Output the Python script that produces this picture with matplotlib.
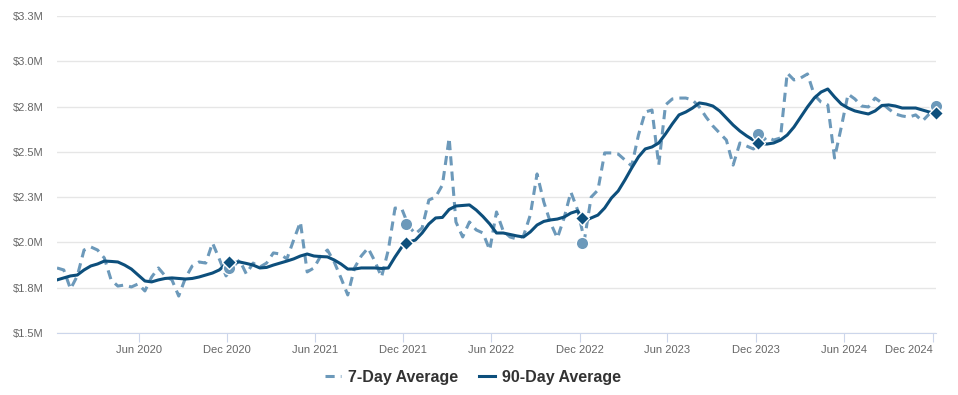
import pandas as pd
import matplotlib.pyplot as plt
from matplotlib.lines import Line2D

plt.rcParams["font.family"] = ["Liberation Sans", "DejaVu Sans"]

# biweekly samples, values in $M
dates = pd.date_range("2019-12-15", periods=131, freq="14D")

avg_7day = [
    1.859, 1.848, 1.743, 1.815, 1.958, 1.975, 1.958, 1.914, 1.793, 1.759,
    1.765, 1.754, 1.771, 1.732, 1.809, 1.859, 1.815, 1.793, 1.704, 1.804,
    1.870, 1.892, 1.886, 1.997, 1.909, 1.815, 1.864, 1.903, 1.826, 1.886,
    1.864, 1.886, 1.942, 1.936, 1.909, 2.013, 2.113, 1.837, 1.859, 1.925,
    1.958, 1.892, 1.804, 1.710, 1.859, 1.925, 1.969, 1.897, 1.809, 1.958,
    2.190, 2.185, 2.091, 2.047, 2.080, 2.234, 2.251, 2.317, 2.577, 2.113,
    2.030, 2.113, 2.069, 2.052, 1.958, 2.168, 2.063, 2.030, 2.019, 2.036,
    2.151, 2.378, 2.223, 2.107, 2.024, 2.135, 2.278, 2.179, 2.013, 2.250,
    2.289, 2.494, 2.494, 2.488, 2.455, 2.422, 2.593, 2.720, 2.731, 2.427,
    2.759, 2.792, 2.797, 2.797, 2.786, 2.748, 2.692, 2.643, 2.604, 2.565,
    2.427, 2.549, 2.532, 2.516, 2.549, 2.582, 2.565, 2.577, 2.935, 2.897,
    2.908, 2.930, 2.814, 2.775, 2.759, 2.466, 2.637, 2.819, 2.792, 2.753,
    2.748, 2.797, 2.770, 2.737, 2.709, 2.698, 2.692, 2.704, 2.670, 2.709,
    2.759,
]

avg_90day = [
    1.793, 1.804, 1.815, 1.820, 1.848, 1.870, 1.881, 1.897, 1.895, 1.892,
    1.875, 1.853, 1.820, 1.787, 1.782, 1.793, 1.801, 1.804, 1.801, 1.798,
    1.801, 1.809, 1.820, 1.831, 1.848, 1.881, 1.889, 1.892, 1.884, 1.875,
    1.859, 1.862, 1.875, 1.886, 1.897, 1.909, 1.925, 1.936, 1.925, 1.922,
    1.920, 1.903, 1.881, 1.853, 1.853, 1.859, 1.859, 1.859, 1.856, 1.859,
    1.920, 1.975, 2.002, 2.013, 2.052, 2.102, 2.135, 2.138, 2.182, 2.201,
    2.204, 2.207, 2.179, 2.143, 2.102, 2.052, 2.052, 2.044, 2.036, 2.030,
    2.058, 2.096, 2.116, 2.124, 2.129, 2.140, 2.162, 2.174, 2.118, 2.135,
    2.151, 2.190, 2.245, 2.284, 2.345, 2.411, 2.472, 2.516, 2.527, 2.549,
    2.599, 2.654, 2.704, 2.720, 2.742, 2.770, 2.764, 2.753, 2.726, 2.687,
    2.648, 2.615, 2.588, 2.565, 2.546, 2.543, 2.549, 2.565, 2.593, 2.637,
    2.692, 2.748, 2.797, 2.830, 2.847, 2.803, 2.764, 2.742, 2.726, 2.717,
    2.709, 2.726, 2.756, 2.759, 2.753, 2.742, 2.742, 2.742, 2.731, 2.720,
    2.715,
]

# yearly highlight points
mark_dates = pd.to_datetime(["2020-12-06", "2021-12-06", "2022-12-06", "2023-12-06", "2024-12-08"])
mark_7day = [1.859, 2.102, 1.997, 2.599, 2.753]
mark_90day = [1.892, 1.997, 2.135, 2.549, 2.715]

xtick_dates = pd.to_datetime(["2020-06-01", "2020-12-01", "2021-06-01", "2021-12-01", "2022-06-01",
                              "2022-12-01", "2023-06-01", "2023-12-01", "2024-06-01", "2024-12-01"])
xtick_labels = ["Jun 2020", "Dec 2020", "Jun 2021", "Dec 2021", "Jun 2022",
                "Dec 2022", "Jun 2023", "Dec 2023", "Jun 2024", "Dec 2024"]
ytick_values = [1.5, 1.75, 2.0, 2.25, 2.5, 2.75, 3.0, 3.25]
ytick_labels = ["$1.5M", "$1.8M", "$2.0M", "$2.3M", "$2.5M", "$2.8M", "$3.0M", "$3.3M"]

light = "#6c99ba"
dark = "#0d4f7c"

fig = plt.figure(figsize=(9.58, 3.95), dpi=100)
ax = fig.add_axes([0.0595, 0.157, 0.9175, 0.8025])

ax.plot(dates, avg_7day, color=light, lw=2.2, ls=(0, (3, 2)), zorder=2)
ax.plot(dates, avg_90day, color=dark, lw=2.2, zorder=3)
ax.plot(mark_dates, mark_7day, "o", color=light, ms=9, mec="white", mew=1, zorder=4, clip_on=False)
ax.plot(mark_dates, mark_90day, "D", color=dark, ms=7, mec="white", mew=1, zorder=5, clip_on=False)

ax.set_xlim(dates[0], dates[-1])
ax.set_ylim(1.5, 3.25)
ax.set_yticks(ytick_values)
ax.set_yticklabels(ytick_labels)
ax.set_xticks(xtick_dates)
ax.set_xticklabels(xtick_labels)
# last label kept inside the chart, like the original
last = ax.get_xticklabels()[-1]
last.set_horizontalalignment("right")

ax.grid(axis="y", color="#e6e6e6", lw=1)
ax.set_axisbelow(True)
for s in ["top", "right", "left"]:
    ax.spines[s].set_visible(False)
ax.spines["bottom"].set_color("#ccd6eb")
ax.tick_params(axis="y", length=0, pad=10, labelsize=8, labelcolor="#666666")
ax.tick_params(axis="x", length=6.5, color="#ccd6eb", pad=2, labelsize=8, labelcolor="#666666")

handles = [Line2D([], [], color=light, lw=2.2, ls=(0, (3, 2))),
           Line2D([], [], color=dark, lw=2.2)]
fig.legend(handles, ["7-Day Average", "90-Day Average"], loc="center",
           bbox_to_anchor=(0.494, 0.045), ncol=2, frameon=False, handlelength=1.0,
           columnspacing=1.3, handletextpad=0.45,
           prop={"size": 11.5, "weight": "bold"}, labelcolor="#333333")

fig.savefig("out.png", dpi=100)
